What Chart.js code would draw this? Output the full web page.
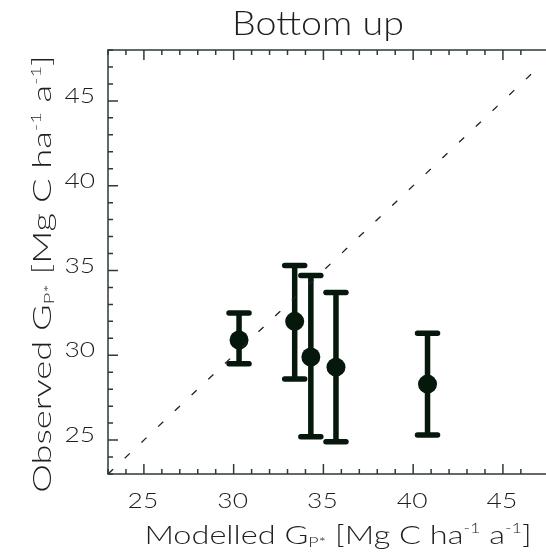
<!DOCTYPE html>
<html>
<head>
<meta charset="utf-8">
<script src="https://cdn.jsdelivr.net/npm/chart.js@4.4.1/dist/chart.umd.min.js"></script>
<style>
  html, body { margin: 0; padding: 0; background: #ffffff; }
  canvas { display: block; }
</style>
</head>
<body>
<canvas id="c" width="546" height="557"></canvas>
<script>
// Site values: modelled vs. observed GPP with observed ranges
const modelled     = [30.3, 33.4, 34.3, 35.7, 40.8];
const observed     = [30.9, 32.0, 29.9, 29.3, 28.3];
const observedHigh = [32.5, 35.3, 34.7, 33.7, 31.3];
const observedLow  = [29.5, 28.6, 25.2, 24.9, 25.3];

// 1:1 reference line end points
const oneToOne = [23, 47];

// Labelled tick values on both axes
const xTickLabels = [25, 30, 35, 40, 45];
const yTickLabels = [25, 30, 35, 40, 45];

const FONT = "Lato, 'DejaVu Sans', sans-serif";
const INK = '#1c1f1c';
const MARK = '#06170c';
const AXIS = '#2f3a33';

// draws a label built from plain, subscript and superscript pieces,
// widened horizontally by `stretch`
function richText(ctx, parts, size, x, y, align, stretch) {
  const fontFor = p => '300 ' + (p.sub || p.sup ? size * 0.55 : size) + 'px ' + FONT;
  const widths = parts.map(p => { ctx.font = fontFor(p); return ctx.measureText(p.t).width; });
  const total = widths.reduce((a, b) => a + b, 0);
  ctx.save();
  ctx.translate(x, y);
  ctx.scale(stretch, 1);
  ctx.textAlign = 'left';
  let cx = align === 'center' ? -total / 2 : align === 'right' ? -total : 0;
  parts.forEach((p, i) => {
    ctx.font = fontFor(p);
    let dy = 0;
    if (p.sub) dy = size * 0.12;
    if (p.sup) dy = -size * 0.42;
    ctx.fillText(p.t, cx, dy);
    cx += widths[i];
  });
  ctx.restore();
}

function gppLabel(word) {
  return [
    { t: word + ' G' }, { t: 'P*', sub: true },
    { t: ' [Mg C ha' }, { t: '-1', sup: true },
    { t: ' a' }, { t: '-1', sup: true }, { t: ']' }
  ];
}

const framePlugin = {
  id: 'frame',
  beforeDatasetsDraw(chart) {
    const { ctx, scales: { x, y } } = chart;
    // vertical observed ranges with end caps
    ctx.save();
    ctx.strokeStyle = MARK;
    ctx.lineWidth = 5.5;
    ctx.lineCap = 'round';
    modelled.forEach((m, i) => {
      const px = x.getPixelForValue(m);
      const top = y.getPixelForValue(observedHigh[i]);
      const bot = y.getPixelForValue(observedLow[i]);
      ctx.beginPath();
      ctx.moveTo(px, top); ctx.lineTo(px, bot);
      ctx.moveTo(px - 10, top); ctx.lineTo(px + 10, top);
      ctx.moveTo(px - 10, bot); ctx.lineTo(px + 10, bot);
      ctx.stroke();
    });
    ctx.restore();
  },
  afterDraw(chart) {
    const { ctx, chartArea: a, scales: { x, y } } = chart;
    ctx.save();
    ctx.strokeStyle = AXIS;
    ctx.lineWidth = 1.5;
    ctx.beginPath();
    ctx.moveTo(a.right, a.top); ctx.lineTo(a.left, a.top);
    ctx.lineTo(a.left, a.bottom); ctx.lineTo(a.right, a.bottom);
    ctx.stroke();
    // inward tick marks: long at labelled values, short at each unit
    ctx.beginPath();
    x.ticks.forEach(t => {
      const px = x.getPixelForValue(t.value);
      const len = t.value % 5 === 0 ? 10 : 5;
      ctx.moveTo(px, a.bottom); ctx.lineTo(px, a.bottom - len);
      ctx.moveTo(px, a.top); ctx.lineTo(px, a.top + len);
    });
    y.ticks.forEach(t => {
      const py = y.getPixelForValue(t.value);
      const len = t.value % 5 === 0 ? 10 : 5;
      ctx.moveTo(a.left, py); ctx.lineTo(a.left + len, py);
    });
    ctx.stroke();

    ctx.fillStyle = INK;
    // tick labels
    ctx.textBaseline = 'middle';
    xTickLabels.forEach(v => {
      richText(ctx, [{ t: String(v) }], 22, x.getPixelForValue(v) - 1, a.bottom + 27, 'center', 1.2);
    });
    yTickLabels.forEach(v => {
      richText(ctx, [{ t: String(v) }], 22, a.left - 13, y.getPixelForValue(v) - 5, 'right', 1.2);
    });
    // titles
    ctx.textBaseline = 'alphabetic';
    richText(ctx, [{ t: 'Bottom up' }], 33, 318, 35, 'center', 1.14);
    richText(ctx, gppLabel('Modelled'), 26, 338, 544, 'center', 1.25);
    ctx.translate(51, 274);
    ctx.rotate(-Math.PI / 2);
    richText(ctx, gppLabel('Observed'), 25, 0, 0, 'center', 1.45);
    ctx.restore();
  }
};

const keepUnits = s => { s.ticks = s.ticks.filter(t => Number.isInteger(t.value)); };

new Chart(document.getElementById('c'), {
  type: 'scatter',
  data: {
    datasets: [
      {
        data: oneToOne.map(v => ({ x: v, y: v })),
        showLine: true,
        borderColor: '#1c241e',
        borderWidth: 1.3,
        borderDash: [7, 16],
        pointRadius: 0
      },
      {
        data: modelled.map((m, i) => ({ x: m, y: observed[i] })),
        pointRadius: 9.5,
        pointStyle: 'circle',
        backgroundColor: MARK,
        borderColor: MARK,
        borderWidth: 0
      }
    ]
  },
  options: {
    responsive: false,
    animation: false,
    devicePixelRatio: 1,
    layout: { autoPadding: false, padding: { top: 50, right: 0, left: 0, bottom: 0 } },
    plugins: { legend: { display: false }, tooltip: { enabled: false }, title: { display: false } },
    scales: {
      x: {
        type: 'linear', position: 'bottom', min: 23, max: 47.4,
        grid: { display: false, drawTicks: false }, border: { display: false },
        afterBuildTicks: keepUnits,
        afterFit: s => { s.height = 83; },
        ticks: { stepSize: 1, display: false }
      },
      y: {
        type: 'linear', position: 'left', min: 23, max: 48,
        grid: { display: false, drawTicks: false }, border: { display: false },
        afterBuildTicks: keepUnits,
        afterFit: s => { s.width = 108; },
        ticks: { stepSize: 1, display: false }
      }
    }
  },
  plugins: [framePlugin]
});
</script>
</body>
</html>
